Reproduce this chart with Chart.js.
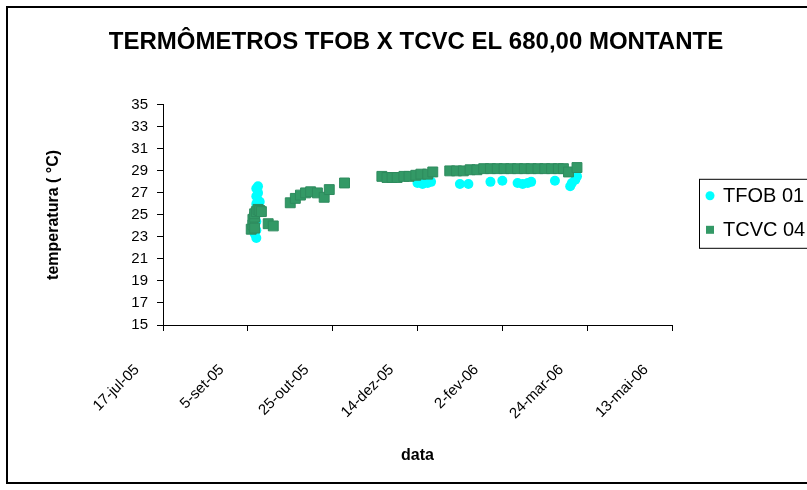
<!DOCTYPE html>
<html>
<head>
<meta charset="utf-8">
<script src="https://cdn.jsdelivr.net/npm/chart.js@4"></script>
<style>
  html, body { margin: 0; padding: 0; background: #fff; width: 807px; height: 490px; overflow: hidden; }
  #frame { position: absolute; left: 6px; top: 6px; width: 816px; height: 474px; border: 2px solid #000; background: #fff; }
  canvas { display: block; }
</style>
</head>
<body>
<div id="frame"><canvas id="chart" width="816" height="474"></canvas></div>
<script>
// Leituras dos termômetros (data da leitura, temperatura em °C)
const tfobDates = [
  '2005-09-09', '2005-09-09', '2005-09-09',
  '2005-09-10', '2005-09-10', '2005-09-10', '2005-09-10', '2005-09-10', '2005-09-10', '2005-09-10',
  '2005-09-11', '2005-09-11', '2005-09-11', '2005-09-11', '2005-09-12',
  '2005-12-14', '2005-12-17', '2005-12-20', '2005-12-22',
  '2006-01-08', '2006-01-13', '2006-01-26', '2006-02-02',
  '2006-02-11', '2006-02-14', '2006-02-17', '2006-02-19',
  '2006-03-05', '2006-03-14', '2006-03-15', '2006-03-17', '2006-03-18'
];
const tfobValues = [
  23.3, 24.0, 25.0,
  22.9, 23.6, 24.4, 25.3, 26.0, 26.7, 27.4,
  27.6, 27.0, 26.3, 25.6, 26.2,
  27.9, 27.8, 27.9, 28.0,
  27.8, 27.8, 28.0, 28.1,
  27.9, 27.8, 27.9, 28.0,
  28.1, 27.6, 27.9, 28.2, 28.5
];

const tcvcDates = [
  '2005-09-07', '2005-09-08', '2005-09-08', '2005-09-09', '2005-09-09', '2005-09-09',
  '2005-09-10', '2005-09-11', '2005-09-12', '2005-09-13', '2005-09-17', '2005-09-20',
  '2005-09-30', '2005-10-03', '2005-10-06', '2005-10-09', '2005-10-12', '2005-10-16',
  '2005-10-20', '2005-10-23', '2005-11-01',
  '2005-11-23', '2005-11-26', '2005-11-29', '2005-12-02', '2005-12-06', '2005-12-09',
  '2005-12-13', '2005-12-16', '2005-12-20', '2005-12-23',
  '2006-01-02', '2006-01-06', '2006-01-10', '2006-01-14', '2006-01-18', '2006-01-22',
  '2006-01-26', '2006-01-30', '2006-02-03', '2006-02-07', '2006-02-11', '2006-02-15',
  '2006-02-19', '2006-02-23', '2006-02-27', '2006-03-03', '2006-03-07', '2006-03-10',
  '2006-03-13', '2006-03-18'
];
const tcvcValues = [
  23.7, 24.1, 24.6, 23.8, 24.8, 25.1,
  25.3, 25.5, 25.4, 25.3, 24.2, 24.0,
  26.1, 26.5, 26.8, 27.0, 27.1, 27.0,
  26.6, 27.3, 27.9,
  28.5, 28.4, 28.4, 28.4, 28.5, 28.5,
  28.6, 28.7, 28.7, 28.9,
  29.0, 29.0, 29.0, 29.1, 29.1, 29.2,
  29.2, 29.2, 29.2, 29.2, 29.2, 29.2,
  29.2, 29.2, 29.2, 29.2, 29.2, 29.2,
  28.9, 29.3
];

// Eixos
const xStart = '2005-07-17';
const xEnd = '2006-05-13';
const xStepDays = 50;
const yMin = 15, yMax = 35, yStep = 2;
const monthNames = ['jan', 'fev', 'mar', 'abr', 'mai', 'jun', 'jul', 'ago', 'set', 'out', 'nov', 'dez'];

const seriesNames = ['TFOB 01', 'TCVC 04'];
const chartTitle = 'TERMÔMETROS TFOB X TCVC EL 680,00 MONTANTE';
const xTitle = 'data';
const yTitle = 'temperatura ( °C)';

// Datas como número serial de dias (mesma contagem da planilha)
function toSerial(iso) {
  const [y, m, d] = iso.split('-').map(Number);
  return Date.UTC(y, m - 1, d) / 86400000 + 25569;
}
function serialLabel(s) {
  const dt = new Date((s - 25569) * 86400000);
  const yy = String(dt.getUTCFullYear() % 100).padStart(2, '0');
  return dt.getUTCDate() + '-' + monthNames[dt.getUTCMonth()] + '-' + yy;
}
function points(dates, values) {
  return dates.map((d, i) => ({ x: toSerial(d), y: values[i] }));
}

const FONT = "'Liberation Sans', Arial, sans-serif";

// Legenda com moldura, à direita da área de plotagem
const boxedLegend = {
  id: 'boxedLegend',
  afterDraw(chart) {
    const { ctx, chartArea } = chart;
    const left = chartArea.right + 27;
    const top = chartArea.top + 74;
    const rowH = 34;
    const n = chart.data.datasets.length;
    const height = rowH * n + 1;
    ctx.save();
    ctx.strokeStyle = '#000';
    ctx.lineWidth = 1;
    ctx.strokeRect(left + 0.5, top + 0.5, 140, height);
    ctx.font = '20px ' + FONT;
    ctx.textBaseline = 'middle';
    chart.data.datasets.forEach((ds, i) => {
      const cy = top + 17 + i * rowH;
      const cx = left + 11;
      ctx.fillStyle = ds.backgroundColor;
      ctx.beginPath();
      if (ds.pointStyle === 'rect') {
        ctx.rect(cx - 4, cy - 4, 8, 8);
      } else {
        ctx.arc(cx, cy, 4.5, 0, Math.PI * 2);
      }
      ctx.fill();
      ctx.fillStyle = '#000';
      ctx.fillText(ds.label, left + 24, cy + 1);
    });
    ctx.restore();
  }
};

new Chart(document.getElementById('chart'), {
  type: 'scatter',
  data: {
    datasets: [
      {
        label: seriesNames[0],
        data: points(tfobDates, tfobValues),
        backgroundColor: '#00FFFF',
        borderColor: '#00FFFF',
        borderWidth: 0,
        pointStyle: 'circle',
        pointRadius: 5,
        order: 1
      },
      {
        label: seriesNames[1],
        data: points(tcvcDates, tcvcValues),
        backgroundColor: '#339966',
        borderColor: '#2E8B5E',
        borderWidth: 1,
        pointStyle: 'rect',
        pointRadius: 7,
        order: 0
      }
    ]
  },
  options: {
    responsive: false,
    animation: false,
    events: [],
    layout: { padding: 0 },
    plugins: {
      legend: { display: false },
      tooltip: { enabled: false },
      title: {
        display: true,
        text: chartTitle,
        color: '#000',
        font: { family: FONT, size: 24, weight: 'bold' },
        padding: { top: 20, bottom: 48 }
      }
    },
    scales: {
      x: {
        type: 'linear',
        min: toSerial(xStart),
        max: toSerial(xEnd),
        afterFit: (scale) => { scale.height = 157; },
        ticks: {
          stepSize: xStepDays,
          autoSkip: false,
          minRotation: 45,
          maxRotation: 45,
          labelOffset: -26,
          padding: 30,
          color: '#000',
          font: { family: FONT, size: 15 },
          callback: (v) => serialLabel(v)
        },
        grid: { drawOnChartArea: false, drawTicks: true, tickLength: 6, color: '#000', lineWidth: 1 },
        border: { display: true, color: '#000', width: 1 },
        title: {
          display: true,
          text: xTitle,
          color: '#000',
          font: { family: FONT, size: 16, weight: 'bold' },
          padding: { top: 0, bottom: 17 }
        }
      },
      y: {
        min: yMin,
        max: yMax,
        afterFit: (scale) => { scale.width = 155; },
        ticks: {
          stepSize: yStep,
          padding: 9,
          color: '#000',
          font: { family: FONT, size: 15 }
        },
        grid: { drawOnChartArea: false, drawTicks: true, tickLength: 6, color: '#000', lineWidth: 1 },
        border: { display: true, color: '#000', width: 1 },
        title: {
          display: true,
          text: yTitle,
          color: '#000',
          font: { family: FONT, size: 16, weight: 'bold' },
          padding: { top: 36, bottom: 0 }
        }
      },
      // faixa vazia à direita, onde fica a legenda
      legendSpace: {
        type: 'linear',
        position: 'right',
        display: true,
        afterFit: (scale) => { scale.width = 152; },
        ticks: { display: false },
        grid: { display: false, drawTicks: false },
        border: { display: false }
      }
    }
  },
  plugins: [boxedLegend]
});
</script>
</body>
</html>
